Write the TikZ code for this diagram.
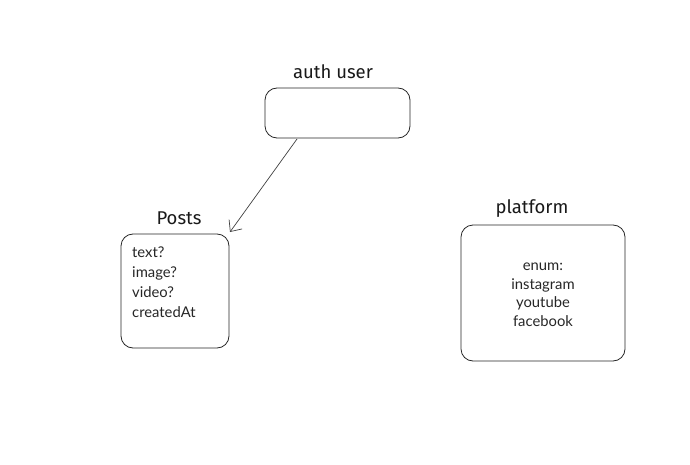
\documentclass[tikz,border=0pt]{standalone}
\usepackage{fontspec}
\setmainfont{Lato}
\newfontfamily\handfont{Fira Sans}
\usetikzlibrary{arrows.meta}
\tikzset{
  ent/.style={draw=black!85, line width=0.8pt, rounded corners=12pt},
  ttl/.style={font=\handfont\fontsize{18.5}{20}\selectfont, text=black!90},
  body/.style={text=black!85, inner sep=0pt}
}
\tikzset{
  conn/.style={draw=black!75, line width=0.7pt, -{Straight Barb[length=9pt,width=16pt]}}
}
\begin{document}
\begin{tikzpicture}[x=1pt,y=-1pt]
\useasboundingbox (0,0) rectangle (690,465);
\draw[ent] (265,88) rectangle (410,138);
\coordinate (authb) at (297,139);
\node[ttl] (authT) at (333,72) {auth user};
\draw[ent] (121,234) rectangle (229,348);
\coordinate (postsc) at (230,232);
\node[ttl] (postsT) at (179,218) {Posts};
\node[body, font=\fontsize{14.8}{19.7}\selectfont, anchor=north west, align=left] (postsB) at (132,247) {text?\\image?\\video?\\createdAt};
\draw[ent] (461,225) rectangle (625,361);
\node[ttl] (platT) at (532,209) {platform};
\node[body, font=\fontsize{14.8}{18.7}\selectfont, align=center, anchor=north] (platB) at (543,262.5) {enum:\\instagram\\youtube\\facebook};
\draw[conn] (authb) -- (postsc);
\end{tikzpicture}
\end{document}
